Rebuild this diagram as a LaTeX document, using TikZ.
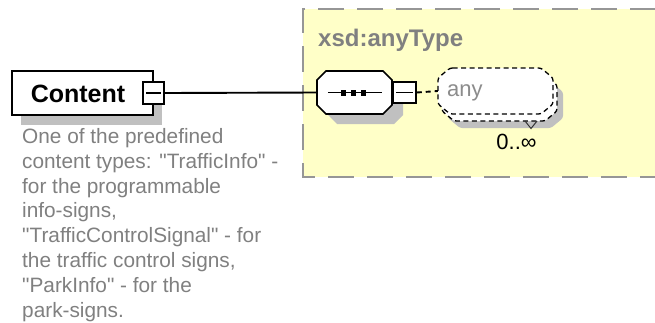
\documentclass[tikz,border=0pt]{standalone}
\usepackage{fontspec}
\setmainfont{Liberation Sans}[Ligatures=TeXOff]
\definecolor{ybg}{RGB}{255,255,200}
\definecolor{shad}{RGB}{192,192,192}
\definecolor{txtg}{RGB}{128,128,128}
\definecolor{dashg}{RGB}{150,150,150}
\definecolor{anyg}{RGB}{140,140,140}
% chamfered outline: x1,y1,x2,y2,cx,cy
\newcommand\chamfpath[6]{(#1+#5,#2) -- (#3-#5,#2) -- (#3,#2+#6) -- (#3,#4-#6) -- (#3-#5,#4) -- (#1+#5,#4) -- (#1,#4-#6) -- (#1,#2+#6) -- cycle}
\begin{document}
\begin{tikzpicture}[x=1pt,y=-1pt,
  shadowrect/.style={fill=shad, draw=none, inner sep=0pt},
  elbox/.style={draw=black, fill=white, line width=1.8pt, inner sep=0pt, minimum width=141pt, minimum height=44pt},
  minusbox/.style={draw=black, fill=white, line width=1.5pt, inner sep=0pt, minimum width=21pt, minimum height=22pt},
  anchorbox/.style={draw=none, inner sep=0pt},
  octline/.style={draw=black, fill=white, line width=1.6pt},
  anyline/.style={draw=black, fill=white, line width=1.3pt, dash pattern=on 5pt off 3.5pt, rounded corners=2.5pt},
  desc/.style={anchor=base west, inner sep=0pt, text=txtg, font=\fontsize{20.8}{24.8}\selectfont},
  conn/.style={line width=1.9pt, draw=black}
]
\useasboundingbox (0,0) rectangle (655,322);
\fill[white] (0,0) rectangle (655,322);
% complex type area
\fill[ybg] (303,9) rectangle (656,177);
\draw[dashg, line width=2pt, dash pattern=on 26pt off 13pt] (656,9) -- (303,9) -- (303,177) -- (656,177);
\node[anchor=west, inner sep=0pt, text=txtg, font=\bfseries\fontsize{24}{28}\selectfont] (typename) at (318,40) {xsd:anyType};

% Content element
\node[shadowrect, minimum width=141pt, minimum height=44pt] (contentshadow) at (91.5,103) {};
\node[elbox] (content) at (82.5,93) {};
\node[inner sep=0pt, font=\bfseries\fontsize{25}{28}\selectfont] (contenttext) at (78,93.5) {Content};
\node[minusbox] (cm) at (153.5,93) {};
\draw[line width=1.7pt] ([xshift=4pt]cm.west) -- ([xshift=-4pt]cm.east);

% sequence compositor
\fill[shad] \chamfpath{328}{81}{403}{124}{9}{9};
\draw[octline] \chamfpath{317}{71}{392}{114}{9}{9};
\node[anchorbox, minimum width=75pt, minimum height=43pt] (oct) at (354.5,92.5) {};
\draw[line width=1.8pt] ([xshift=11pt]oct.west) -- ([xshift=-10pt]oct.east);
\fill (340.5,90) rectangle +(5.5,5.5);
\fill (350.5,90) rectangle +(5.5,5.5);
\fill (360.5,90) rectangle +(5.5,5.5);
\node[minusbox, minimum width=23pt, minimum height=21pt] (om) at (404.5,92.5) {};
\draw[line width=1.7pt] ([xshift=4pt]om.west) -- ([xshift=-4pt]om.east);

\draw[conn] (cm.east) -- (oct.west);

% any wildcard (0..unbounded)
\fill[shad, rounded corners=2.5pt] \chamfpath{448}{82}{563}{128}{12}{10};
\draw[anyline] \chamfpath{442}{75}{557}{121}{12}{10};
\draw[anyline] \chamfpath{438}{68}{553}{114}{12}{10};
\node[anchorbox, minimum width=115pt, minimum height=46pt] (anyf) at (495.5,91) {};
\node[anchor=west, inner sep=0pt, text=anyg, font=\fontsize{22}{26}\selectfont] (anytext) at (447,92.5) {any};
\draw[black!80, line width=1pt] (525,121) -- (531,128.5) -- (537,121);
\node[inner sep=0pt, font=\fontsize{22}{26}\selectfont] (occ) at (516.5,142) {0..∞};

\draw[conn, dash pattern=on 5pt off 4pt] (om.east) -- (anyf.west);

% documentation
\node[desc] (d1) at (22,143.5) {One of the predefined};
\node[desc] (d2) at (22,168.3) {content types: "TrafficInfo" -};
\node[desc] (d3) at (22,193.1) {for the programmable};
\node[desc] (d4) at (22,217.9) {info-signs,};
\node[desc] (d5) at (22,242.7) {"TrafficControlSignal" - for};
\node[desc] (d6) at (22,267.5) {the traffic control signs,};
\node[desc] (d7) at (22,292.3) {"ParkInfo" - for the};
\node[desc] (d8) at (22,317.1) {park-signs.};
\end{tikzpicture}
\end{document}
